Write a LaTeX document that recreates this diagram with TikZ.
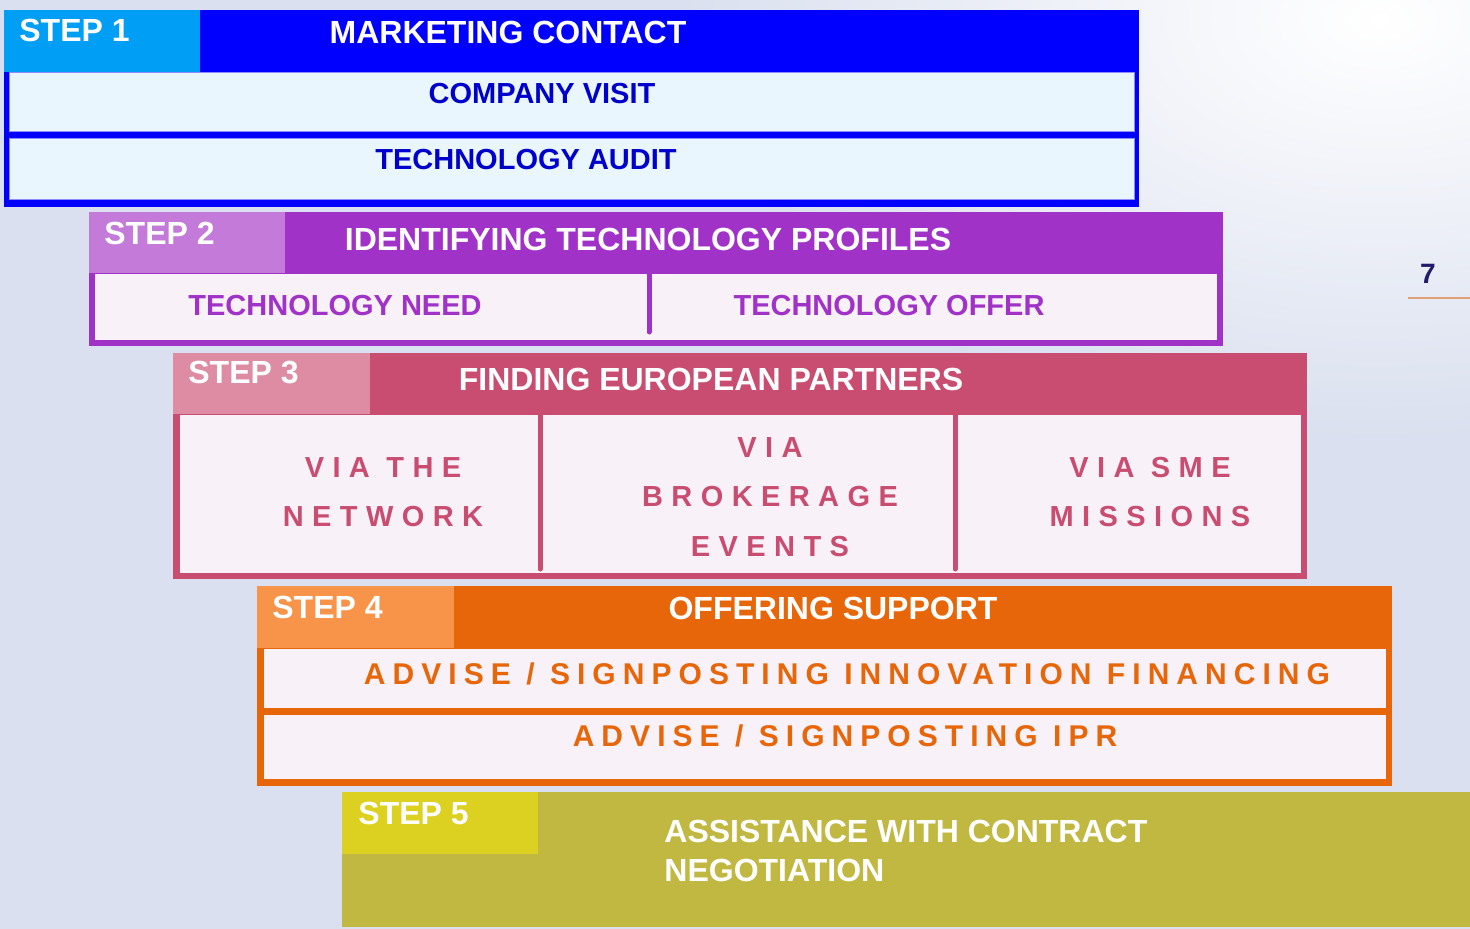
\documentclass[tikz,border=0pt]{standalone}
\usepackage{fontspec}
\setmainfont{Liberation Sans}
\usepackage{xcolor}
\usepackage{tikz}
\usetikzlibrary{positioning}

\definecolor{bgblue}{RGB}{218,224,239}
\definecolor{oneblue}{RGB}{0,0,255}
\definecolor{onetab}{RGB}{0,158,245}
\definecolor{onecell}{RGB}{234,246,253}
\definecolor{onetext}{RGB}{0,0,204}
\definecolor{twopurple}{RGB}{160,50,200}
\definecolor{twotab}{RGB}{196,122,217}
\definecolor{threerose}{RGB}{200,77,112}
\definecolor{threetab}{RGB}{222,140,164}
\definecolor{fourorange}{RGB}{232,102,10}
\definecolor{fourtab}{RGB}{248,148,74}
\definecolor{fiveolive}{RGB}{192,184,64}
\definecolor{fivetab}{RGB}{220,208,32}
\definecolor{palecell}{RGB}{248,241,248}
\definecolor{pagenum}{RGB}{35,25,110}
\definecolor{pageline}{RGB}{225,160,120}

\begin{document}
\begin{tikzpicture}[x=0.5pt, y=-0.5pt]
\tikzstyle{steplabel} = [anchor=base west, inner sep=0pt, text=white, font=\fontsize{16}{16}\selectfont\bfseries]
\tikzstyle{steptitle} = [anchor=base, inner sep=0pt, text=white, font=\fontsize{16}{16}\selectfont\bfseries]
\tikzstyle{rowtext} = [anchor=base, inner sep=0pt, font=\fontsize{14.5}{14.5}\selectfont\bfseries]
\tikzstyle{spaced} = [anchor=base, inner sep=0pt, text=threerose, font=\fontsize{14.5}{14.5}\selectfont\bfseries\addfontfeature{LetterSpace=29}]
\tikzstyle{spacedwide} = [anchor=base, inner sep=0pt, text=fourorange, font=\fontsize{15}{15}\selectfont\bfseries\addfontfeature{LetterSpace=23.5}]
\tikzstyle{divider} = [line width=2.5pt, line cap=round]

\useasboundingbox (0,0) rectangle (1470,929);
\begin{scope}
\clip (0,0) rectangle (1470,929);
\fill[bgblue] (0,0) rectangle (1470,929);
\shade[inner color=white, outer color=bgblue] (1380,20) ellipse [x radius=700, y radius=420];
\end{scope}

\fill[oneblue] (4,10) rectangle (1139,207);
\fill[onetab] (4,10) rectangle (200,72);
\filldraw[fill=onecell, draw=oneblue!45, line width=0.5pt] (9,73) rectangle (1134,132);
\filldraw[fill=onecell, draw=oneblue!45, line width=0.5pt] (9,139) rectangle (1134,200);
\node (step1) [steplabel] at (19,42) {STEP 1};
\node (marketing) [steptitle] at (508,44) {MARKETING CONTACT};
\node (visit) [rowtext, text=onetext] at (542,104) {COMPANY VISIT};
\node (audit) [rowtext, text=onetext] at (526,170) {TECHNOLOGY AUDIT};

\fill[twopurple] (89,212) rectangle (1223,346);
\fill[twotab] (89,212) rectangle (285,273);
\fill[palecell] (95,274) rectangle (1217,340);
\draw[divider, twopurple] (649,273) -- (649,332);
\node (step2) [steplabel] at (104,245) {STEP 2};
\node (profiles) [steptitle] at (648,251) {IDENTIFYING TECHNOLOGY PROFILES};
\node (need) [rowtext, text=twopurple] at (335,316) {TECHNOLOGY NEED};
\node (offer) [rowtext, text=twopurple] at (889,316) {TECHNOLOGY OFFER};

\fill[threerose] (173,353) rectangle (1307,579);
\fill[threetab] (173,353) rectangle (370,414);
\fill[palecell] (180,415) rectangle (1301,573);
\draw[divider, threerose] (540,414) -- (540,569);
\draw[divider, threerose] (955,414) -- (955,569);
\node (step3) [steplabel] at (188,384) {STEP 3};
\node (partners) [steptitle] at (711,391) {FINDING EUROPEAN PARTNERS};
\node (viathe) [spaced] at (383,478) {VIA THE};
\node (network) [spaced] at (383,527) {NETWORK};
\node (viabrok) [spaced] at (770,458) {VIA};
\node (brokerage) [spaced] at (770,507) {BROKERAGE};
\node (events) [spaced] at (770,556) {EVENTS};
\node (viasme) [spaced] at (1150,478) {VIA SME};
\node (missions) [spaced] at (1150,527) {MISSIONS};

\fill[fourorange] (257,586) rectangle (1392,786);
\fill[fourtab] (257,586) rectangle (454,648);
\fill[palecell] (264,649) rectangle (1386,708);
\fill[palecell] (264,715) rectangle (1386,779);
\node (step4) [steplabel] at (272,618) {STEP 4};
\node (support) [steptitle] at (833,619) {OFFERING SUPPORT};
\node (financing) [spacedwide] at (847,684) {ADVISE / SIGNPOSTING INNOVATION FINANCING};
\node (ipr) [spacedwide] at (845,746) {ADVISE / SIGNPOSTING IPR};

\fill[fiveolive] (342,792) rectangle (1470,927);
\fill[fivetab] (342,792) rectangle (538,854);
\node (step5) [steplabel] at (358,824) {STEP 5};
\node (assist) [steplabel] at (664,842) {ASSISTANCE WITH CONTRACT};
\node (negotiation) [steplabel] at (664,881) {NEGOTIATION};

\node (pageno) [anchor=base, inner sep=0pt, text=pagenum, font=\fontsize{14}{14}\selectfont\bfseries] at (1428,284) {7};
\coordinate (rulestart) at (1408,298);
\coordinate (ruleend) at (1470,298);
\draw[pageline, line width=1pt] (rulestart) -- (ruleend);
\end{tikzpicture}
\end{document}
